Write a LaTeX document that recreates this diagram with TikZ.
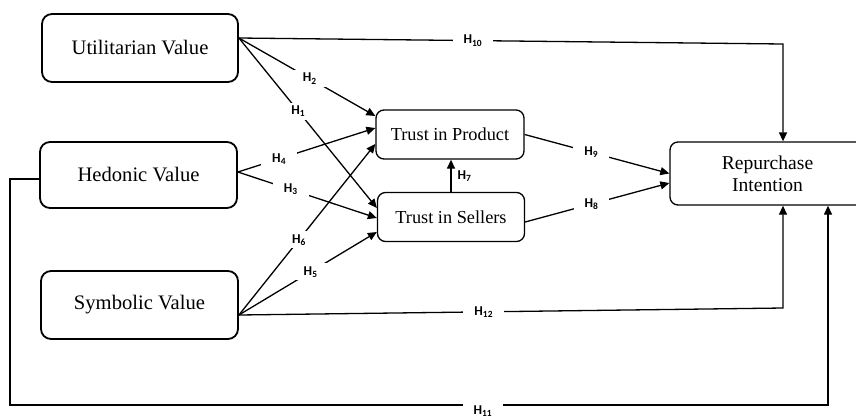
\documentclass[tikz,border=0pt]{standalone}
\usepackage{fontspec}
\setmainfont{Liberation Serif}
\newfontfamily\labfont{Carlito}
\usetikzlibrary{arrows.meta}
\newcommand{\hyp}[1]{H\textsubscript{#1}}

\begin{document}
\begin{tikzpicture}[x=1pt,y=-1pt,>={Triangle[length=9pt,width=8pt]},
  valbox/.style={draw, line width=1.8pt, rounded corners=10pt, inner sep=0pt, font=\fontsize{20.6}{24}\selectfont},
  trbox/.style={draw, line width=1.3pt, rounded corners=8pt, inner sep=0pt, font=\fontsize{18.3}{21}\selectfont},
  link/.style={line width=1.3pt},
  hlab/.style={fill=white, inner xsep=11pt, inner ysep=3pt, font=\labfont\bfseries\fontsize{13.5}{15}\selectfont}]
  \useasboundingbox (0,0) rectangle (856,416);
  \clip (0,0) rectangle (856,416);
  % constructs
  \node[valbox, minimum width=196pt, minimum height=68pt] (util) at (140,48) {Utilitarian Value};
  \node[valbox, minimum width=197pt, minimum height=66pt] (hed) at (138.5,175) {Hedonic Value};
  \node[valbox, minimum width=197pt, minimum height=68pt] (sym) at (139.5,305) {Symbolic Value};
  \node[trbox, minimum width=148pt, minimum height=49pt] (prod) at (450,134.5) {Trust in Product};
  \node[trbox, minimum width=147pt, minimum height=49pt] (sell) at (451,217) {Trust in Sellers};
  \node[trbox, align=center, minimum width=195pt, minimum height=63pt, font=\fontsize{19.6}{22}\selectfont] (rep) at (767.5,173.5) {Repurchase\\Intention};
  % fan points and corners
  \coordinate (uo) at ([yshift=10pt]util.east);
  \coordinate (ho) at ([yshift=3pt]hed.east);
  \coordinate (so) at ([yshift=-10pt]sym.east);
  \coordinate (c10) at (783,44);
  \coordinate (c12) at (783,308);
  \coordinate (c11) at (10,405);
  \coordinate (c11r) at (828,405);
  % hypotheses
  \draw[link,->] (uo) -- node[hlab,pos=0.43] {\hyp{10}} (c10) -- (c10 |- rep.north);
  \draw[link,->] (uo) -- node[hlab,pos=0.52] {\hyp{2}} ([yshift=18.5pt]prod.west);
  \draw[link,->] (uo) -- node[hlab,pos=0.43] {\hyp{1}} ([yshift=9pt]sell.west);
  \draw[link,->] (ho) -- node[hlab,pos=0.3] {\hyp{4}} ([yshift=6.5pt]prod.west);
  \draw[link,->] (ho) -- node[hlab,pos=0.38] {\hyp{3}} ([yshift=-1pt]sell.west);
  \draw[link,->] (so) -- node[hlab,pos=0.44] {\hyp{6}} ([yshift=-9.5pt]prod.west);
  \draw[link,->] (so) -- node[hlab,pos=0.52] {\hyp{5}} ([yshift=-15pt]sell.west);
  \draw[link,->] (sell.north) -- node[hlab,fill=none,inner xsep=0pt,right=6pt] {\hyp{7}} (sell.north |- prod.south);
  \draw[link,->] (prod.east) -- node[hlab,pos=0.46] {\hyp{9}} (rep.west);
  \draw[link,->] ([yshift=-5pt]sell.east) -- node[hlab,pos=0.46] {\hyp{8}} ([yshift=-9.5pt]rep.west);
  \draw[link,->] (so) -- node[hlab,pos=0.45] {\hyp{12}} (c12) -- (c12 |- rep.south);
  \draw[link,->] ([yshift=-4pt]hed.west) -| (c11) -- node[hlab,pos=0.578,anchor=north,yshift=2pt,inner ysep=2pt] {\hyp{11}} (c11r) -- (c11r |- rep.south);
\end{tikzpicture}
\end{document}
